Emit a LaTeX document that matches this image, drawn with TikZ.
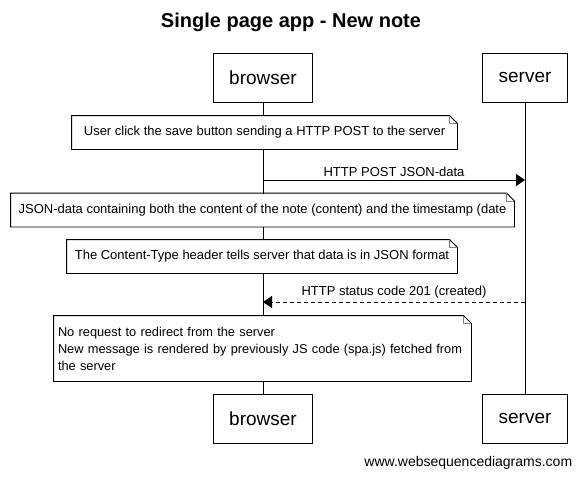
\documentclass[tikz,border=0pt]{standalone}
\usepackage{fontspec}
\setmainfont{Liberation Sans}
\usetikzlibrary{arrows.meta}

\begin{document}
\begin{tikzpicture}[x=1pt, y=-1pt, line width=0.9pt]
  \tikzstyle{actor}=[draw, minimum height=49pt, inner xsep=16pt, font=\fontsize{19}{22}\selectfont]
  \tikzstyle{note}=[fill=white, inner sep=0pt, minimum height=33pt, font=\fontsize{13}{17}\selectfont]
  \tikzstyle{message}=[-{Triangle[length=9pt,width=12pt]}]
  \tikzstyle{msglabel}=[font=\fontsize{13}{15}\selectfont, inner sep=0pt]

  \useasboundingbox (0,0) rectangle (583,477);

  % Title
  \node[font=\fontsize{20}{24}\selectfont\bfseries] (title) at (291,22) {Single page app - New note};

  % Draw the participants, on top and at the bottom
  \foreach \y/\pos in {77.5/top,418.5/bot} {
    \node[actor] (browser-\pos) at (263,\y) {browser};
    \node[actor] (server-\pos) at (525,\y) {server};
  }

  % Lifelines
  \draw (browser-top) -- (browser-bot);
  \draw (server-top) -- (server-bot);

  % Notes over the browser
  \node[note, minimum width=385pt] (N1) at (264.5,132.5)
      {User click the save button sending a HTTP POST to the server};
  \node[note, minimum width=503pt] (N2) at (262.5,210)
      {JSON-data containing both the content of the note (content) and the timestamp (date};
  \node[note, minimum width=390pt] (N3) at (262,256.5)
      {The Content-Type header tells server that data is in JSON format};
  \node[note, minimum width=417pt, minimum height=65pt, text width=409pt, align=left,
        font=\fontsize{12.8}{17}\selectfont] (N4) at (262.5,348.5)
      {No request to redirect from the server\\
       New message is rendered by previously JS code (spa.js) fetched from\\
       the server};

  % Outline every note with a folded corner
  \foreach \n in {N1,N2,N3,N4} {
    \draw (\n.south west) -- (\n.north west) -- ([xshift=-8pt]\n.north east)
      -- ([yshift=-8pt]\n.north east) -- (\n.south east) -- cycle;
    \draw[gray] ([xshift=-8pt]\n.north east) |- ([yshift=-8pt]\n.north east);
  }

  % Messages between the lifelines
  \coordinate (post-from) at (263,180);
  \coordinate (post-to) at (525,180);
  \draw[message] (post-from) -- node[msglabel, above=3pt] {HTTP POST JSON-data} (post-to);

  \coordinate (reply-from) at (525,302);
  \coordinate (reply-to) at (263,302);
  \draw[message, dash pattern=on 4pt off 3pt] (reply-from)
      -- node[msglabel, above=3pt] {HTTP status code 201 (created)} (reply-to);

  \node[anchor=east, font=\fontsize{14}{16}\selectfont] (credit) at (576,463) {www.websequencediagrams.com};
\end{tikzpicture}
\end{document}
